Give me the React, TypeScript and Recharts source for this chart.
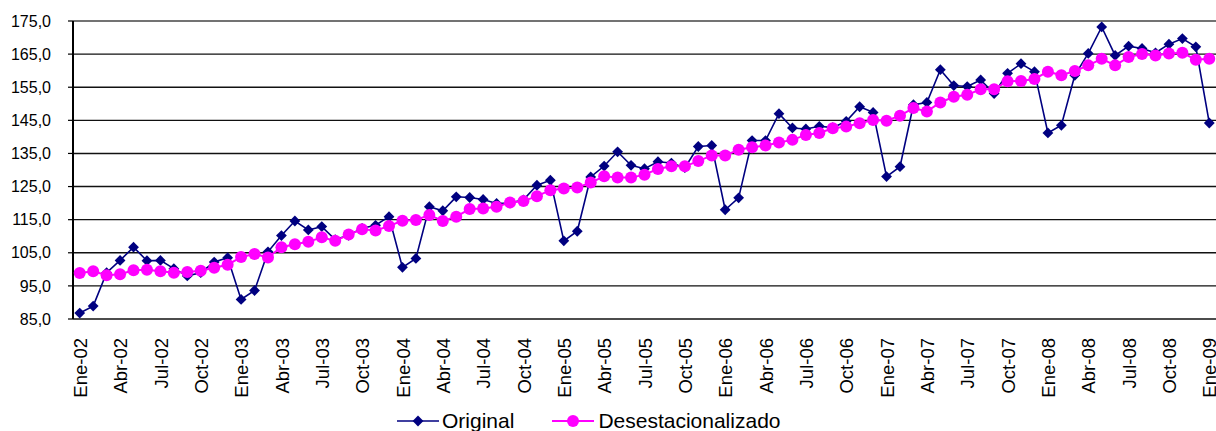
import { LineChart, Line, XAxis, YAxis, CartesianGrid, ReferenceLine } from "recharts";

const months = ["Ene", "Feb", "Mar", "Abr", "May", "Jun", "Jul", "Ago", "Sep", "Oct", "Nov", "Dic"];
const years = ["02", "03", "04", "05", "06", "07", "08", "09"];

const original = [
  86.8, 88.9, 99.0, 102.7, 106.7, 102.6, 102.7, 100.2, 98.0, 99.0, 102.2, 103.5,
  90.9, 93.6, 105.3, 110.2, 114.6, 111.9, 112.9, 109.0, 110.3, 112.4, 113.3, 115.9,
  100.6, 103.3, 118.9, 117.7, 121.9, 121.7, 121.1, 119.9, 120.0, 121.0, 125.4, 126.9,
  108.6, 111.5, 127.9, 131.2, 135.5, 131.4, 130.4, 132.5, 132.1, 130.7, 137.1, 137.4,
  118.0, 121.6, 138.9, 138.9, 147.0, 142.7, 142.4, 143.2, 142.8, 144.7, 149.1, 147.4,
  128.0, 131.0, 149.7, 150.4, 160.3, 155.5, 155.2, 157.2, 153.1, 159.2, 162.1, 159.7,
  141.2, 143.5, 158.6, 165.2, 173.2, 164.6, 167.4, 166.7, 165.4, 168.0, 169.7, 167.2,
  144.2,
];

const desestacionalizado = [
  98.9, 99.4, 98.2, 98.5, 99.7, 99.9, 99.4, 99.0, 99.2, 99.6, 100.5, 101.4,
  103.7, 104.6, 103.6, 106.7, 107.6, 108.3, 109.7, 108.6, 110.5, 112.1, 111.7, 113.1,
  114.7, 114.9, 116.4, 114.6, 115.9, 118.2, 118.4, 118.9, 120.2, 120.6, 122.1, 123.9,
  124.4, 124.7, 126.2, 128.1, 127.7, 127.7, 128.6, 130.3, 131.1, 131.1, 132.7, 134.4,
  134.4, 136.1, 136.9, 137.4, 138.3, 139.1, 140.6, 141.2, 142.6, 143.1, 144.1, 145.1,
  144.9, 146.4, 148.7, 147.7, 150.4, 152.1, 152.7, 154.4, 154.4, 156.8, 156.9, 157.5,
  159.7, 158.6, 159.9, 161.6, 163.6, 161.6, 164.1, 165.0, 164.6, 165.2, 165.4, 163.3,
  163.6,
];

const yTicks = [85, 95, 105, 115, 125, 135, 145, 155, 165, 175];

const categories = years.flatMap((y) => months.map((m) => `${m}-${y}`)).slice(0, original.length);

const data = categories.map((label, idx) => ({
  idx,
  label,
  original: original[idx],
  desest: desestacionalizado[idx],
}));

const labelTicks = categories.map((_, i) => i).filter((i) => i % 3 === 0);
const minorTicks = [-0.5, ...categories.map((_, i) => i + 0.5)];
const majorTicks = minorTicks.filter((t) => (t + 0.5) % 3 === 0);

const NAVY = "#000080";
const PINK = "#FF00FF";
const FONT = "'Liberation Sans', Arial, sans-serif";

const fmt = (v: number) => v.toFixed(1).replace(".", ",");

const Diamond = (props: any) => {
  const { cx, cy } = props;
  if (cx == null || cy == null) return null;
  const r = 5.4;
  return (
    <polygon
      points={`${cx},${cy - r} ${cx + r},${cy} ${cx},${cy + r} ${cx - r},${cy}`}
      fill={NAVY}
      stroke="none"
    />
  );
};

const Dot = (props: any) => {
  const { cx, cy } = props;
  if (cx == null || cy == null) return null;
  return <circle cx={cx} cy={cy} r={6} fill={PINK} stroke="none" />;
};

const MonthTick = (props: any) => {
  const { x, y, payload } = props;
  return (
    <text
      transform={`translate(${x + 7.2}, ${y + 19}) rotate(-90)`}
      textAnchor="end"
      fontSize={18.5}
      fontFamily={FONT}
      fill="#000"
    >
      {categories[payload.value]}
    </text>
  );
};

const App = () => (
  <div style={{ position: "absolute", left: 0, top: 0, width: 1216, height: 431, background: "#fff" }}>
    <LineChart width={1216} height={431} data={data} margin={{ top: 21, right: 0, left: 0, bottom: 0 }}>
      <CartesianGrid horizontal vertical={false} stroke="#111" strokeWidth={1.4} />
      <ReferenceLine y={175} stroke="#808080" strokeWidth={1.5} />
      <XAxis
        xAxisId="minor"
        dataKey="idx"
        type="number"
        domain={[-0.5, 84.5]}
        allowDataOverflow
        ticks={minorTicks}
        interval={0}
        tick={false}
        tickSize={3}
        tickLine={{ stroke: "#000", strokeWidth: 1.2 }}
        axisLine={{ stroke: "#000", strokeWidth: 2 }}
        height={0}
      />
      <XAxis
        xAxisId="major"
        dataKey="idx"
        type="number"
        domain={[-0.5, 84.5]}
        allowDataOverflow
        ticks={majorTicks}
        interval={0}
        tick={false}
        tickSize={5.5}
        tickLine={{ stroke: "#000", strokeWidth: 1.2 }}
        axisLine={false}
        height={0}
      />
      <XAxis
        dataKey="idx"
        type="number"
        domain={[-0.5, 84.5]}
        allowDataOverflow
        ticks={labelTicks}
        interval={0}
        tick={<MonthTick />}
        tickLine={false}
        axisLine={false}
        tickSize={0}
        tickMargin={0}
        height={112}
      />
      <YAxis
        domain={[85, 175]}
        ticks={yTicks}
        interval={0}
        width={73}
        tickFormatter={fmt}
        tickSize={5}
        tickMargin={17}
        tickLine={{ stroke: "#000", strokeWidth: 1.2 }}
        axisLine={{ stroke: "#000", strokeWidth: 2 }}
        tick={{ fill: "#000", fontSize: 16, fontFamily: FONT }}
      />
      <Line
        dataKey="original"
        name="Original"
        stroke={NAVY}
        strokeWidth={1.6}
        dot={<Diamond />}
        activeDot={false}
        isAnimationActive={false}
      />
      <Line
        dataKey="desest"
        name="Desestacionalizado"
        stroke={PINK}
        strokeWidth={2}
        dot={<Dot />}
        activeDot={false}
        isAnimationActive={false}
      />
    </LineChart>
    <div
      style={{
        position: "absolute",
        left: 397,
        top: 407,
        display: "flex",
        alignItems: "center",
        fontFamily: FONT,
        fontSize: 21,
        color: "#000",
        whiteSpace: "nowrap",
        lineHeight: "28px",
      }}
    >
      <svg width={44} height={14}>
        <line x1={0} y1={7} x2={42} y2={7} stroke={NAVY} strokeWidth={1.6} />
        <polygon points="21,1.6 26.4,7 21,12.4 15.6,7" fill={NAVY} />
      </svg>
      <span style={{ marginLeft: 1 }}>Original</span>
      <svg width={42} height={14} style={{ marginLeft: 38 }}>
        <line x1={0} y1={7} x2={42} y2={7} stroke={PINK} strokeWidth={2} />
        <circle cx={21} cy={7} r={6} fill={PINK} />
      </svg>
      <span style={{ marginLeft: 4 }}>Desestacionalizado</span>
    </div>
  </div>
);

export default App;
